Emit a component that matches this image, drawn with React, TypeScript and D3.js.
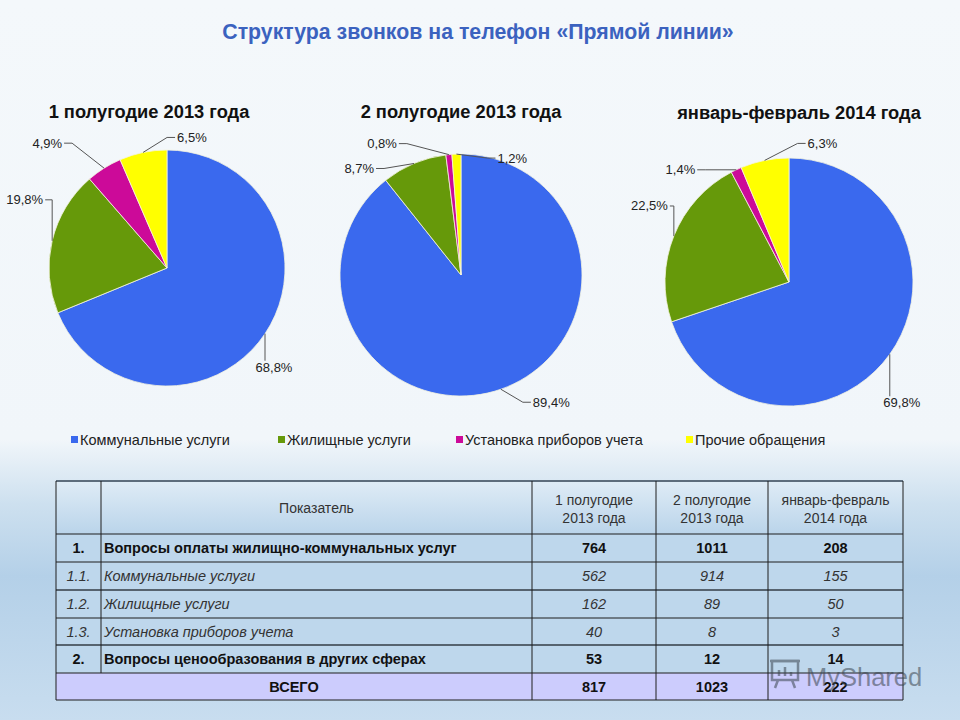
import React from "react";
import * as d3 from "d3";

// --- data ---
const categories = [
  "Коммунальные услуги",
  "Жилищные услуги",
  "Установка приборов учета",
  "Прочие обращения",
];
const periods = ["1 полугодие 2013 года", "2 полугодие 2013 года", "январь-февраль 2014 года"];

// pie shares, %, in category order
const share1 = [68.8, 19.8, 4.9, 6.5];
const share2 = [89.4, 8.7, 0.8, 1.2];
const share3 = [69.8, 22.5, 1.4, 6.3];

// table
const headerCols = ["1 полугодие\n2013 года", "2 полугодие\n2013 года", "январь-февраль\n2014 года"];
const rowNums = ["1.", "1.1.", "1.2.", "1.3.", "2."];
const rowLabels = [
  "Вопросы оплаты жилищно-коммунальных услуг",
  "Коммунальные услуги",
  "Жилищные услуги",
  "Установка приборов  учета",
  "Вопросы ценообразования в других сферах",
];
const paymentRow = [764, 1011, 208];
const communalRow = [562, 914, 155];
const housingRow = [162, 89, 50];
const metersRow = [40, 8, 3];
const pricingRow = [53, 12, 14];
const totalRow = [817, 1023, 222];

// --- layout / style ---
const colors = ["#3a69ee", "#66990a", "#cc0a99", "#ffff00"];
const FONT = "Liberation Sans, Arial, sans-serif";

type Lbl = { dx: number; dy: number; mode: "h" | "v" };
const pieLayout = [
  {
    cx: 167, cy: 268, r: 118, tx: 149, ty: 118, shares: share1,
    labels: [
      { dx: 9, dy: 38, mode: "v" },
      { dx: -9, dy: -41, mode: "h" },
      { dx: -42, dy: -25, mode: "h" },
      { dx: 34, dy: -15, mode: "h" },
    ] as Lbl[],
  },
  {
    cx: 461, cy: 275, r: 121, tx: 461, ty: 118, shares: share2,
    labels: [
      { dx: 32, dy: 13, mode: "h" },
      { dx: -40, dy: 5, mode: "h" },
      { dx: -52, dy: -11, mode: "h" },
      { dx: 41, dy: 4, mode: "h" },
    ] as Lbl[],
  },
  {
    cx: 789, cy: 282, r: 124, tx: 799, ty: 119, shares: share3,
    labels: [
      { dx: 12, dy: 53, mode: "v" },
      { dx: -6, dy: -30, mode: "h" },
      { dx: -41, dy: 0, mode: "h" },
      { dx: 43, dy: -17, mode: "h" },
    ] as Lbl[],
  },
];

const legendX = [71, 278, 456, 686];
const colX = [56, 101, 532, 656, 768, 903];
const rowY = [481, 534, 562, 590, 618, 645, 673, 700];

const fmtPct = (v: number) => d3.format(".1f")(v).replace(".", ",") + "%";

const pieGen = d3.pie<number>().sort(null).value((d) => d);

function Pie({ p, title }: { p: (typeof pieLayout)[number]; title: string }) {
  const arcs = pieGen(p.shares);
  const arc = d3.arc<d3.PieArcDatum<number>>().innerRadius(0).outerRadius(p.r);
  const rim = d3.arc<d3.PieArcDatum<number>>().innerRadius(p.r).outerRadius(p.r);
  return (
    <g>
      <text x={p.tx} y={p.ty} textAnchor="middle" fontSize={18.3} fontWeight="bold" fill="#111">
        {title}
      </text>
      <g transform={`translate(${p.cx},${p.cy})`}>
        {arcs.map((a, i) => (
          <path key={i} d={arc(a) || ""} fill={colors[i]} stroke="#f4f4e0" strokeWidth={0.8} />
        ))}
      </g>
      {arcs.map((a, i) => {
        const [ex0, ey0] = rim.centroid(a);
        const ex = ex0 + p.cx;
        const ey = ey0 + p.cy;
        const l = p.labels[i];
        const lx = ex + l.dx;
        const ly = ey + l.dy;
        if (l.mode === "v") {
          return (
            <g key={i}>
              <path d={`M${ex},${ey}L${ex},${ly - 11}`} stroke="#555" fill="none" />
              <text x={lx} y={ly} textAnchor="middle" fontSize={13} fill="#222">
                {fmtPct(a.data)}
              </text>
            </g>
          );
        }
        const left = l.dx < 0;
        const endX = lx + (left ? 2 : -2);
        const sign = left ? 1 : -1;
        const elbowX = endX + sign * Math.min(8, Math.abs(ex - endX));
        return (
          <g key={i}>
            <path d={`M${endX},${ly}L${elbowX},${ly}L${ex},${ey}`} stroke="#555" fill="none" />
            <text
              x={lx}
              y={ly + 4.5}
              textAnchor={left ? "end" : "start"}
              fontSize={13}
              fill="#222"
            >
              {fmtPct(a.data)}
            </text>
          </g>
        );
      })}
    </g>
  );
}

export default function App() {
  const bodyRows = [paymentRow, communalRow, housingRow, metersRow, pricingRow];
  const colCenter = (c: number) => (colX[c] + colX[c + 1]) / 2;
  const rowMid = (r: number) => (rowY[r] + rowY[r + 1]) / 2;
  const hLineStyle = [
    { s: "#5d6d7c", w: 2 },
    { s: "#1e1e1e", w: 1 },
    { s: "#1e1e1e", w: 1 },
    { s: "#56636f", w: 2 },
    { s: "#1e1e1e", w: 1 },
    { s: "#56636f", w: 2 },
    { s: "#1e1e1e", w: 1 },
    { s: "#1e1e1e", w: 1 },
  ];

  return (
    <>
      <style>{`body{margin:0}`}</style>
      <svg width={960} height={720} style={{ display: "block" }} fontFamily={FONT}>
        <defs>
          <linearGradient id="bg" x1="0" y1="0" x2="0" y2="1">
            <stop offset="0" stopColor="#f4f8fb" />
            <stop offset="0.61" stopColor="#f1f6fa" />
            <stop offset="0.7" stopColor="#cde0ef" />
            <stop offset="0.8" stopColor="#b4d0e8" />
            <stop offset="1" stopColor="#c8ddef" />
          </linearGradient>
          <linearGradient id="hdr" x1="0" y1="0" x2="0" y2="1">
            <stop offset="0" stopColor="#dfecf6" />
            <stop offset="1" stopColor="#bad4ea" />
          </linearGradient>
        </defs>
        <rect width={960} height={720} fill="url(#bg)" />

        <text x={478} y={39} textAnchor="middle" fontSize={21.3} fontWeight="bold" fill="#3b62bf">
          Структура звонков на телефон «Прямой линии»
        </text>

        {pieLayout.map((p, i) => (
          <Pie key={i} p={p} title={periods[i]} />
        ))}

        {categories.map((c, i) => (
          <g key={c}>
            <rect x={legendX[i]} y={436} width={7} height={7} fill={colors[i]} />
            <text x={legendX[i] + 9} y={445} fontSize={14.5} fill="#222">
              {c}
            </text>
          </g>
        ))}

        {/* table */}
        <rect x={colX[0]} y={rowY[0]} width={colX[5] - colX[0]} height={rowY[1] - rowY[0]} fill="url(#hdr)" />
        <rect x={colX[0]} y={rowY[1]} width={colX[5] - colX[0]} height={rowY[6] - rowY[1]} fill="#bed7ec" />
        <rect x={colX[0]} y={rowY[6]} width={colX[5] - colX[0]} height={rowY[7] - rowY[6]} fill="#ccccfd" />

        {rowY.map((y, i) => (
          <line key={i} x1={colX[0]} x2={colX[5]} y1={y} y2={y} stroke={hLineStyle[i].s} strokeWidth={hLineStyle[i].w} />
        ))}
        {colX.map((x, i) => (
          <line
            key={i}
            x1={x}
            x2={x}
            y1={rowY[0]}
            y2={i === 1 ? rowY[6] : rowY[7]}
            stroke="#1e1e1e"
            strokeWidth={1}
          />
        ))}

        <text x={colCenter(1)} y={rowMid(0) + 5} textAnchor="middle" fontSize={14} fill="#333">
          Показатель
        </text>
        {headerCols.map((h, i) =>
          h.split("\n").map((line, j) => (
            <text key={`${i}-${j}`} x={colCenter(i + 2)} y={rowMid(0) - 3 + j * 18} textAnchor="middle" fontSize={14} fill="#333">
              {line}
            </text>
          ))
        )}

        {bodyRows.map((vals, r) => {
          const bold = r === 0 || r === 4;
          const y = rowMid(r + 1) + 5;
          return (
            <g key={r} fontWeight={bold ? "bold" : "normal"} fontStyle={bold ? "normal" : "italic"} fill={bold ? "#111" : "#333"}>
              <text x={colCenter(0)} y={y} textAnchor="middle" fontSize={14.5}>
                {rowNums[r]}
              </text>
              <text x={colX[1] + 3} y={y} fontSize={14.5}>
                {rowLabels[r]}
              </text>
              {vals.map((v, c) => (
                <text key={c} x={colCenter(c + 2)} y={y} textAnchor="middle" fontSize={14.5}>
                  {v}
                </text>
              ))}
            </g>
          );
        })}
        <g fontWeight="bold" fill="#111">
          <text x={(colX[0] + colX[2]) / 2} y={rowMid(6) + 5} textAnchor="middle" fontSize={14.5}>
            ВСЕГО
          </text>
          {totalRow.map((v, c) => (
            <text key={c} x={colCenter(c + 2)} y={rowMid(6) + 5} textAnchor="middle" fontSize={14.5}>
              {v}
            </text>
          ))}
        </g>

        {/* watermark */}
        <g opacity={0.55} fill="none" stroke="#3c4650" strokeWidth={2.5}>
          <rect x={772} y={661} width={26} height={19} />
          <path d="M770,661h30M779,676v-6M785,676v-9M791,676v-4M778,680l-3,8M792,680l3,8" />
        </g>
        <text x={806} y={686} fontSize={25.5} fill="#3c4650" opacity={0.55}>
          MyShared
        </text>
      </svg>
    </>
  );
}
